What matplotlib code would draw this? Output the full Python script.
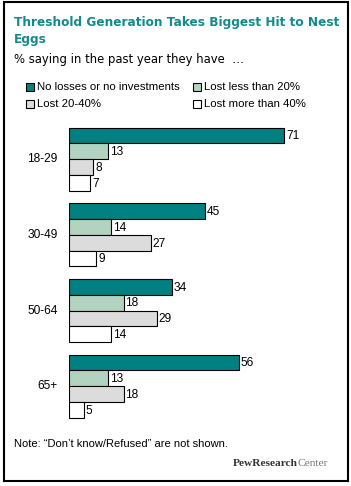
import matplotlib
matplotlib.use("Agg")
import matplotlib.pyplot as plt
from matplotlib.patches import Rectangle

categories = ["18-29", "30-49", "50-64", "65+"]
series_names = ["No losses or no investments", "Lost less than 20%",
                "Lost 20-40%", "Lost more than 40%"]
no_losses = [71, 45, 34, 56]
lost_lt20 = [13, 14, 18, 13]
lost_20_40 = [8, 27, 29, 18]
lost_gt40 = [7, 9, 14, 5]
series_values = [no_losses, lost_lt20, lost_20_40, lost_gt40]
colors = ["#008080", "#b3d3c1", "#dcdcdc", "#ffffff"]

W, H = 351, 486
fig = plt.figure(figsize=(W / 100, H / 100), dpi=100)
fig.patch.set_facecolor("white")

def px(x, y):
    return x / W, 1 - y / H

# border
fig.patches.append(Rectangle((4 / W, 1 - 481 / H), 344 / W, 479 / H,
                             transform=fig.transFigure, fill=False,
                             edgecolor="black", linewidth=1.5))

title_color = "#168a8a"
fig.text(*px(14, 26), "Threshold Generation Takes Biggest Hit to Nest",
         fontsize=8.7, fontweight="bold", color=title_color,
         family="DejaVu Sans", va="baseline")
fig.text(*px(14, 43), "Eggs", fontsize=8.7, fontweight="bold",
         color=title_color, family="DejaVu Sans", va="baseline")
fig.text(*px(14, 63), "% saying in the past year they have  \u2026",
         fontsize=8.4, color="black", family="DejaVu Sans", va="baseline")

# legend
leg_pos = [(26, 87), (193, 87), (26, 104), (193, 104)]
for (lx, ly), name, c in zip(leg_pos, series_names, colors):
    fig.patches.append(Rectangle((lx / W, 1 - (ly + 4) / H), 8 / W, 8 / H,
                                 transform=fig.transFigure, facecolor=c,
                                 edgecolor="black", linewidth=0.8))
    fig.text(*px(lx + 11, ly), name, fontsize=8.2, family="Liberation Sans",
             va="center", ha="left")

ax = fig.add_axes([69 / W, 1 - 425 / H, 270 / W, 305 / H])
ax.set_xlim(0, 270 / 3.03)
ax.set_ylim(18.36, -0.99)
ax.axis("off")

gsp = 4.8
for j, (vals, c) in enumerate(zip(series_values, colors)):
    ys = [i * gsp + j for i in range(len(categories))]
    ax.barh(ys, vals, height=1.0, color=c, edgecolor="black", linewidth=0.8)
    for y, v in zip(ys, vals):
        ax.text(v + 0.6, y + 0.05, str(v), va="center", ha="left",
                fontsize=8.6, family="Liberation Sans")

for i, cat in enumerate(categories):
    ax.text(-3.8, i * gsp + 1.5, cat, va="center", ha="right",
            fontsize=8.6, family="Liberation Sans")

fig.text(*px(14, 447), "Note: \u201cDon\u2019t know/Refused\u201d are not shown.",
         fontsize=8, family="Liberation Sans", va="baseline")

t1 = fig.text(*px(233, 466), "PewResearch", fontsize=8.2,
              family="Liberation Serif", fontweight="bold", color="#333333",
              va="baseline")
fig.canvas.draw()
bb = t1.get_window_extent()
fig.text(bb.x1 / W, 1 - 466 / H, "Center", fontsize=8.2,
         family="Liberation Serif", color="#777777", va="baseline")

fig.savefig("out.png", dpi=100)
